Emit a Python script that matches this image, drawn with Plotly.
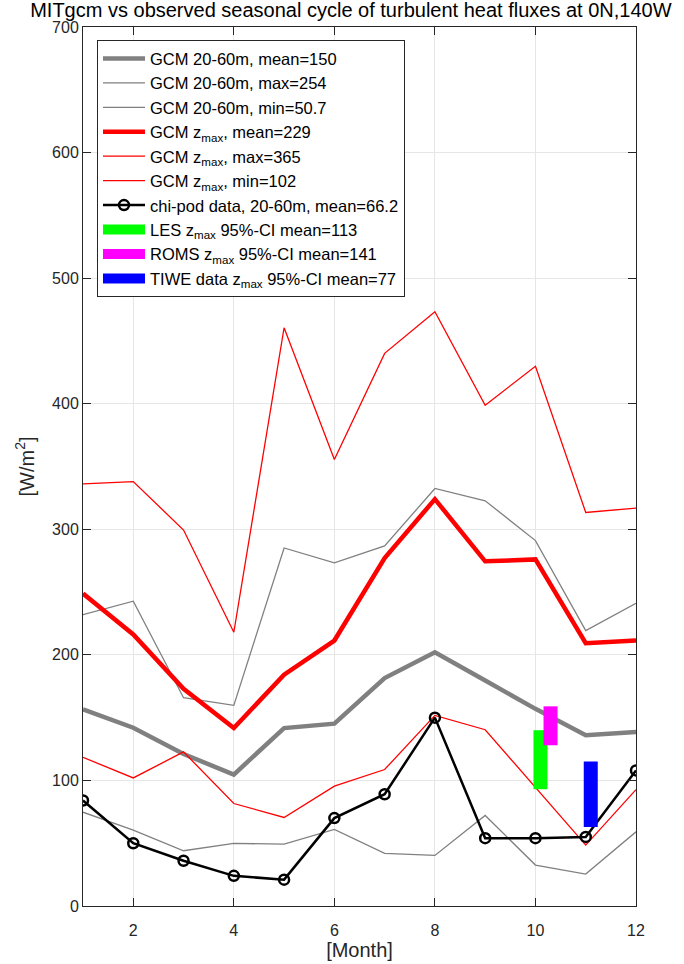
import plotly.graph_objects as go

# Monthly climatology at 0N,140W (W/m^2)
months = list(range(1, 13))

gcm_2060_mean = [156.6, 142.0, 121.0, 104.7, 141.7, 145.2, 181.5, 202.0, 179.6, 157.0, 136.0, 138.6]
gcm_2060_max = [232.0, 242.7, 165.9, 159.8, 285.1, 273.2, 286.7, 332.5, 322.7, 291.0, 219.4, 241.1]
gcm_2060_min = [74.7, 60.4, 44.0, 49.8, 49.3, 61.0, 41.9, 40.3, 72.1, 32.6, 25.4, 59.1]

gcm_zmax_mean = [248.8, 216.2, 173.0, 141.7, 184.2, 211.4, 277.1, 324.0, 274.5, 276.0, 209.3, 211.4]
gcm_zmax_max = [336.2, 338.0, 299.4, 218.0, 460.5, 355.6, 440.1, 473.2, 398.8, 429.8, 313.4, 316.9]
gcm_zmax_min = [118.4, 102.0, 122.7, 81.6, 70.5, 95.4, 108.7, 151.8, 140.4, 94.9, 48.5, 92.7]

chipod_2060 = [84, 50, 36, 24, 21, 70, 89, 150, 54, 54, 55, 108]

# 95% confidence intervals of z_max flux estimates
ci_names = ["LES z<sub>max</sub> 95%-CI mean=113",
            "ROMS z<sub>max</sub> 95%-CI mean=141",
            "TIWE data z<sub>max</sub> 95%-CI mean=77"]
ci_month = [10.1, 10.3, 11.1]
ci_low = [93, 128, 63]
ci_high = [140, 159, 115]
ci_colors = ["#00ff00", "#ff00ff", "#0000ff"]

GRAY = "#808080"
RED = "#ff0000"
FONT = "Liberation Sans, Arial, sans-serif"

fig = go.Figure()

line_series = [
    ("GCM 20-60m, mean=150", gcm_2060_mean, GRAY, 4.5),
    ("GCM 20-60m, max=254", gcm_2060_max, GRAY, 1.3),
    ("GCM 20-60m, min=50.7", gcm_2060_min, GRAY, 1.3),
    ("GCM z<sub>max</sub>, mean=229", gcm_zmax_mean, RED, 4.5),
    ("GCM z<sub>max</sub>, max=365", gcm_zmax_max, RED, 1.3),
    ("GCM z<sub>max</sub>, min=102", gcm_zmax_min, RED, 1.3),
]
for name, vals, col, w in line_series:
    fig.add_trace(go.Scatter(x=months, y=vals, mode="lines", name=name,
                             line=dict(color=col, width=w)))

fig.add_trace(go.Scatter(
    x=months, y=chipod_2060, mode="lines+markers",
    name="chi-pod data, 20-60m, mean=66.2",
    line=dict(color="black", width=2.5),
    marker=dict(symbol="circle-open", size=10, color="black",
                line=dict(width=2.5, color="black")),
))

for name, m, lo, hi, col in zip(ci_names, ci_month, ci_low, ci_high, ci_colors):
    fig.add_trace(go.Scatter(x=[m, m], y=[lo, hi], mode="lines", name=name,
                             line=dict(color=col, width=14)))

axis_common = dict(
    showline=True, linecolor="#262626", linewidth=1, mirror="ticks",
    ticks="inside", ticklen=8, tickcolor="#262626", tickwidth=1,
    showgrid=True, gridcolor="#e6e6e6", gridwidth=1, zeroline=False,
    automargin=False,
    tickfont=dict(family=FONT, size=16, color="#262626"),
)

fig.update_layout(
    width=684, height=964,
    margin=dict(l=83, r=48, t=27, b=58),
    paper_bgcolor="white", plot_bgcolor="white",
    font=dict(family=FONT, color="#262626"),
    title=dict(text="MITgcm vs observed seasonal cycle of turbulent heat fluxes at 0N,140W",
               x=0.513, xanchor="center", y=0.997, yanchor="top",
               font=dict(size=20, color="black")),
    xaxis=dict(range=[1, 12], tickvals=[2, 4, 6, 8, 10, 12],
               ticklabelstandoff=10,
               title=dict(text="[Month]", font=dict(size=20), standoff=2),
               **axis_common),
    yaxis=dict(range=[0, 700], tickvals=list(range(0, 701, 100)),
               title=dict(text="[W/m<sup>2</sup>]", font=dict(size=20), standoff=12),
               **axis_common),
    legend=dict(x=0.0253, y=0.985, xanchor="left", yanchor="top",
                bgcolor="white", bordercolor="#262626", borderwidth=1,
                itemwidth=42, tracegroupgap=0,
                font=dict(size=16.5, color="black")),
    showlegend=True,
)

fig.write_html("out.html")
